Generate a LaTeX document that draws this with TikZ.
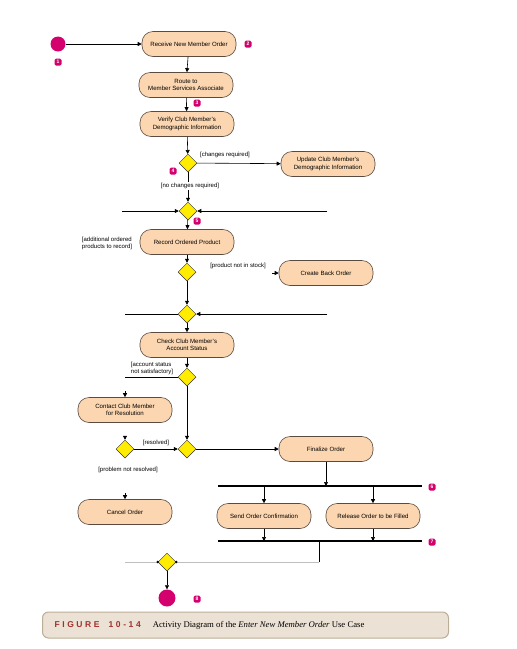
\documentclass[tikz,border=0pt]{standalone}
\usepackage{fontspec}
\setmainfont{Liberation Serif}
\setsansfont{Liberation Sans}
\usetikzlibrary{arrows.meta,positioning,calc,shapes.geometric}
\definecolor{actfill}{HTML}{FBD6B0}
\definecolor{actline}{HTML}{5A4A40}
\definecolor{decfill}{HTML}{FFEC00}
\definecolor{badge}{HTML}{D4006E}
\definecolor{capfill}{HTML}{EBE1D5}
\definecolor{capline}{HTML}{BCAE96}
\definecolor{capred}{HTML}{A3302C}

\begin{document}
\begin{tikzpicture}[x=1pt,y=-1pt,
    activity/.style={draw=actline, fill=actfill, line width=0.6pt, rectangle,
      rounded corners=11pt, minimum width=94pt, minimum height=25pt,
      inner sep=1pt, align=center, font=\sffamily\fontsize{6.1}{7.4}\selectfont},
    decision/.style={draw=black!80, fill=decfill, line width=0.5pt, diamond,
      aspect=1, minimum size=18pt, inner sep=0pt},
    guard/.style={font=\sffamily\fontsize{6}{7}\selectfont, inner sep=0pt},
    num/.style={fill=badge, text=white, rounded corners=1.5pt, inner sep=0.6pt,
      minimum size=7pt, font=\sffamily\bfseries\fontsize{5}{5}\selectfont},
    arr/.style={-{Triangle[width=4pt,length=4pt]}, line width=0.6pt},
    bar/.style={line width=2.6pt},
    ghost/.style={black!25, line width=0.6pt}]
    \useasboundingbox (0,0) rectangle (517,649);
    % Start and first activities
    \node[circle, fill=badge, minimum size=15pt, inner sep=0pt] (init) at (58,44) {};
    \node[activity] (receive) at (189,44) {Receive New Member Order};
    \node[activity] (route) at (186,85) {Route to\\Member Services Associate};
    \node[activity] (verify) at (187,124) {Verify Club Member's\\Demographic Information};
    \draw[arr] (init) -- (receive);
    \draw[arr] (receive) -- (route);
    \draw[arr] (route) -- (verify);
    % Demographic check
    \node[decision] (d1) at (188,163) {};
    \node[activity] (update) at (328,164) {Update Club Member's\\Demographic Information};
    \draw[arr] (verify) -- (d1);
    \draw[arr] (d1) -- (update);
    \node[guard] at (225,155) {[changes required]};
    \node[decision] (m1) at (188,211) {};
    \draw[arr] (d1) -- (m1);
    \node[guard, fill=white, inner sep=1pt] at (190,186) {[no changes required]};
    \coordinate (m1left) at (122,211);
    \coordinate (m1right) at (327,211);
    \draw[arr] (m1left) -- (m1.west);
    \draw[arr] (m1right) -- (m1.east);
    % Ordered products
    \node[activity] (record) at (187,242) {Record Ordered Product};
    \node[guard, align=left] at (107,243) {[additional ordered\\products to record]};
    \draw[arr] (m1) -- (record);
    \node[decision] (d2) at (187,272) {};
    \node[activity] (backorder) at (326,273) {Create Back Order};
    \draw[arr] (record) -- (d2);
    \node[guard] at (238,266) {[product not in stock]};
    \coordinate (backin) at (272,273);
    \draw[arr] (backin) -- (backorder.west);
    \node[decision] (m2) at (187,314) {};
    \draw[arr] (d2) -- (m2);
    \coordinate (m2left) at (125,314);
    \coordinate (m2right) at (327,314);
    \draw[line width=0.6pt] (m2left) -- (m2.west);
    \draw[arr] (m2right) -- (m2.east);
    % Account status
    \node[activity] (check) at (187,345) {Check Club Member's\\Account Status};
    \draw[arr] (m2) -- (check);
    \node[decision] (d3) at (187,377) {};
    \draw[arr] (check) -- (d3);
    \node[guard, align=left] at (152,368) {[account status\\not satisfactory]};
    \coordinate (d3left) at (125,377);
    \draw[line width=0.6pt] (d3left) -- (d3.west);
    \node[activity] (contact) at (125,410) {Contact Club Member\\for Resolution};
    \coordinate (contactin) at (125,391);
    \draw[arr] (contactin) -- (contact.north);
    \node[decision] (d4) at (125,449) {};
    \coordinate (d4in) at (125,437);
    \draw[arr] (d4in) -- (d4.north);
    \node[decision] (m3) at (187,449) {};
    \draw[arr] (d3) -- (m3);
    \draw[arr] (d4) -- (m3);
    \node[guard] at (156,443) {[resolved]};
    \node[guard] at (128,470) {[problem not resolved]};
    \node[activity] (cancel) at (125,512) {Cancel Order};
    \coordinate (cancelin) at (125,493);
    \draw[arr] (cancelin) -- (cancel.north);
    % Finalize, fork and join
    \node[activity] (finalize) at (326,449) {Finalize Order};
    \draw[arr] (m3) -- (finalize);
    \coordinate (forkL) at (218,486);
    \coordinate (forkR) at (422,486);
    \draw[bar] (forkL) -- (forkR);
    \draw[arr] (finalize) -- (finalize |- forkL);
    \node[activity] (send) at (264,516) {Send Order Confirmation};
    \node[activity] (release) at (373,516) {Release Order to be Filled};
    \draw[arr] (send |- forkL) -- (send);
    \draw[arr] (release |- forkL) -- (release);
    \coordinate (joinL) at (218,541);
    \coordinate (joinR) at (422,541);
    \draw[bar] (joinL) -- (joinR);
    \draw[arr] (send) -- (send |- joinL);
    \draw[arr] (release) -- (release |- joinL);
    % Last merge and end
    \node[decision] (m4) at (167,562) {};
    \coordinate (joinout) at (319,541);
    \coordinate (m4corner) at (319,562);
    \coordinate (m4left) at (125,562);
    \draw[line width=0.6pt] (joinout) -- (m4corner);
    \draw[ghost] (m4corner) -- (m4.east);
    \draw[ghost] (m4left) -- (m4.west);
    \fill (m4.east) circle (1.3pt);
    \fill (m4.west) circle (1.3pt);
    \node[circle, fill=badge, minimum size=17pt, inner sep=0pt] (final) at (167,598) {};
    \draw[arr] (m4) -- (final);
    % Numbered badges
    \node[num] at (58,62) {1};
    \node[num] at (248,44) {2};
    \node[num] at (197,103) {3};
    \node[num] at (173,171) {4};
    \node[num] at (197,221) {5};
    \node[num] at (432,487) {6};
    \node[num] at (432,542) {7};
    \node[num] at (197,599) {8};
    % Caption
    \node[draw=capline, fill=capfill, line width=1pt, rounded corners=6pt,
      minimum width=406pt, minimum height=26pt, anchor=west] (caption) at (42,625) {};
    \node[anchor=west, text=capred, font=\sffamily\bfseries\fontsize{8.5}{10}\selectfont]
      (capnum) at (51,625) {F\hspace{2.6pt}I\hspace{2.6pt}G\hspace{2.6pt}U\hspace{2.6pt}R\hspace{2.6pt}E\hspace{9pt}1\hspace{2.6pt}0\hspace{2.6pt}-\hspace{2.6pt}1\hspace{2.6pt}4};
    \node[anchor=west, font=\fontsize{8.7}{10}\selectfont, right=5pt of capnum]
      (captext) {Activity Diagram of the \textit{Enter New Member Order} Use Case};
  \end{tikzpicture}
\end{document}
